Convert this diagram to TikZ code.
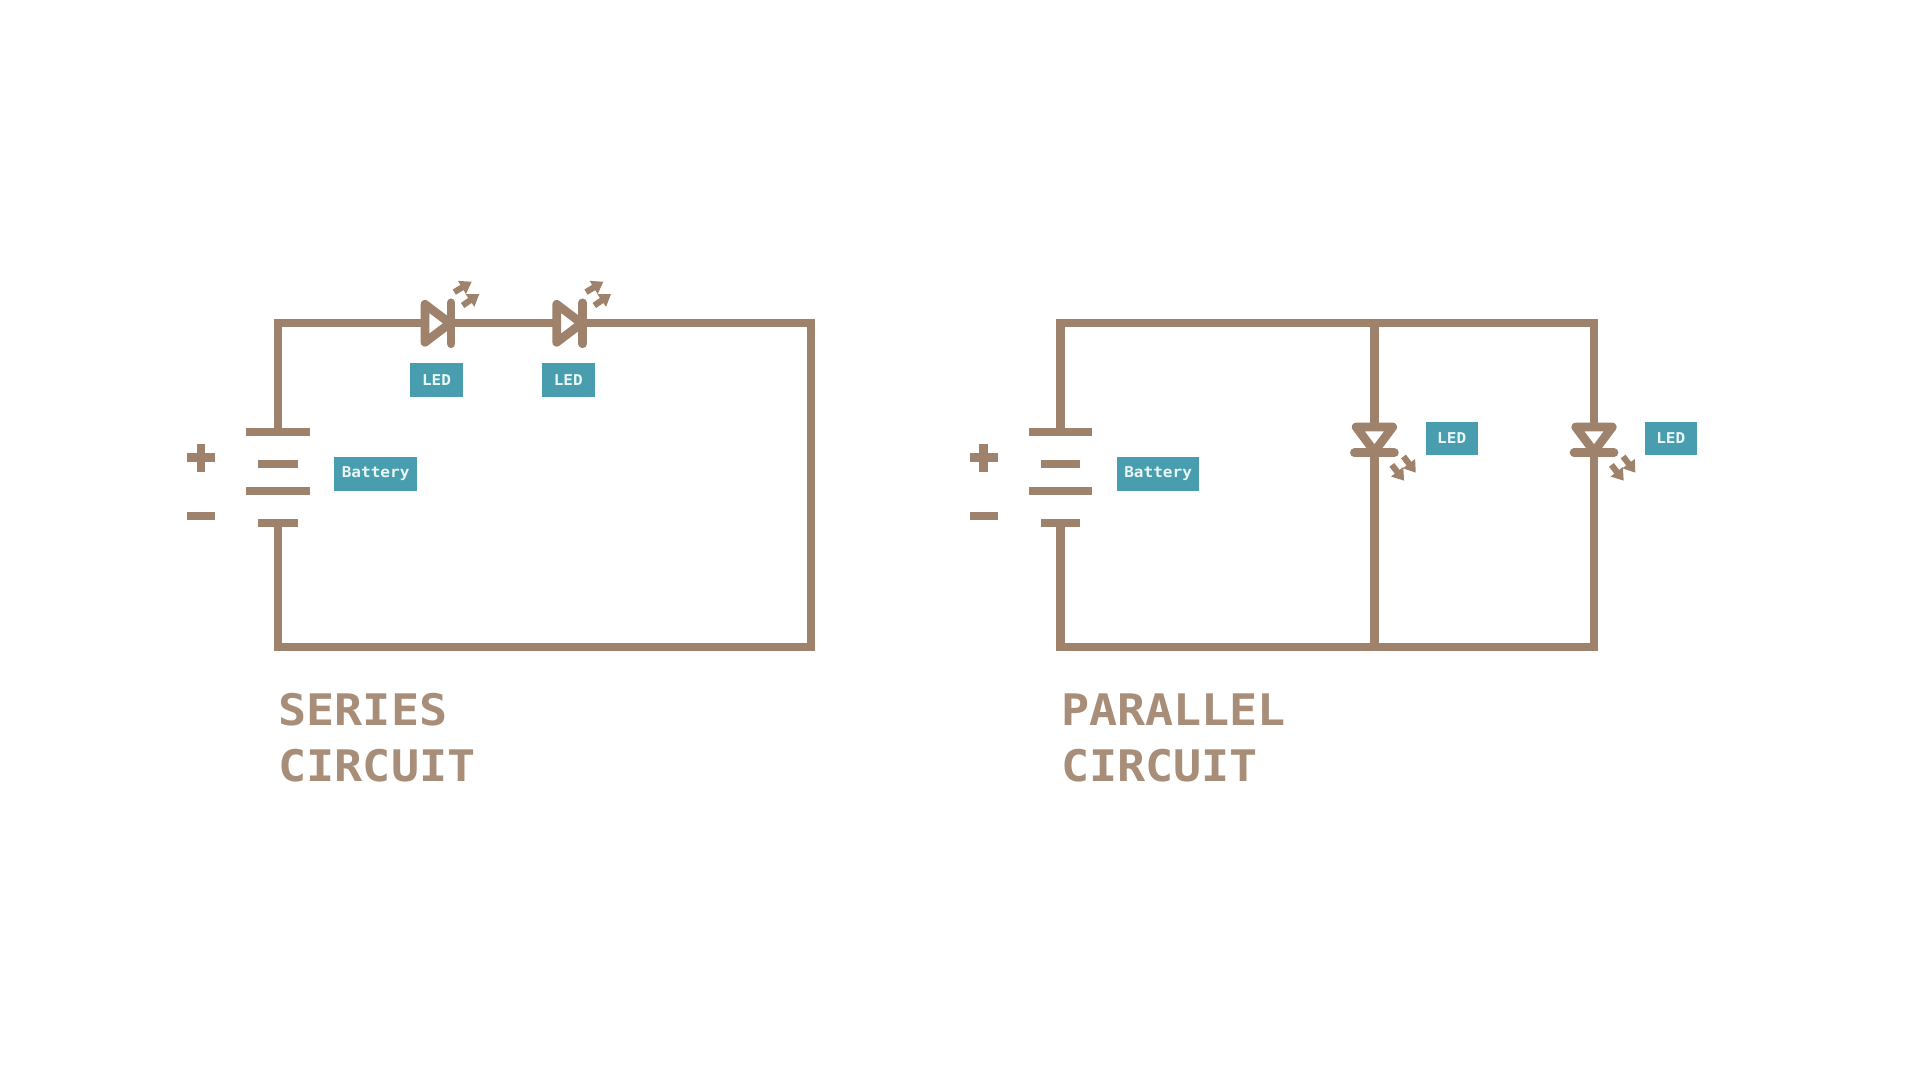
\documentclass[tikz,border=0pt]{standalone}
\usepackage{fontspec}
\newfontfamily\titlefont[FakeStretch=1.075]{DejaVu Sans Mono Bold}
\newfontfamily\tagfont[FakeStretch=1.075]{DejaVu Sans Mono Bold}
\usetikzlibrary{arrows.meta}
\definecolor{wirec}{HTML}{9F826B}
\definecolor{titlec}{HTML}{A88E79}
\definecolor{tagc}{HTML}{489EAE}
\definecolor{tagt}{HTML}{EAF5F6}
\tikzset{
  wire/.style={draw=wirec,line width=6.2pt,miter limit=10},
  bar/.style={draw=wirec,line width=6.2pt},
  ledbody/.style={draw=wirec,line width=6.5pt,line join=round,fill=white},
  ledbar/.style={draw=wirec,line width=6.5pt,line cap=round},
  ray/.style={draw=wirec,line width=4.6pt,-{Triangle[length=8.5pt,width=11pt]}},
  tag/.style={fill=tagc,text=tagt,font=\tagfont\fontsize{11.2}{12}\selectfont,inner sep=0pt,anchor=center},
  title/.style={text=titlec,font=\titlefont\fontsize{32.6}{42}\selectfont,inner sep=0pt,anchor=base west},
  battery/.pic={
    \coordinate (-top) at (0,432);
    \coordinate (-bot) at (0,523.3);
    \draw[bar] (-31.7,432) -- (31.7,432);
    \draw[bar] (-19.7,464) -- (19.7,464);
    \draw[bar] (-31.7,491) -- (31.7,491);
    \draw[bar] (-19.7,523.3) -- (19.7,523.3);
    \draw[bar] (-91,457.5) -- (-63,457.5);
    \draw[bar] (-77,443.5) -- (-77,471.5);
    \draw[bar] (-91,515.7) -- (-63,515.7);
  },
  hled/.pic={
    \coordinate (-in) at (-13,0);
    \coordinate (-out) at (13,0);
    \draw[ledbody] (-13,-19) -- (-13,19) -- (12,0) -- cycle;
    \draw[ledbar] (13,-20.5) -- (13,20.5);
    \draw[ray] (16.3,-31.2) -- (33.7,-41.6);
    \draw[ray] (24.6,-17.8) -- (41.3,-29.3);
  },
  vled/.pic={
    \coordinate (-in) at (0,-12.3);
    \coordinate (-out) at (0,13.4);
    \draw[ledbody] (-18.3,-12.3) -- (18.3,-12.3) -- (0,12.2) -- cycle;
    \draw[ledbar] (-20,13.4) -- (20,13.4);
    \draw[ray] (29.1,17.2) -- (41.4,33.4);
    \draw[ray] (17.4,25.6) -- (29.7,41.4);
  }
}
\begin{document}
\begin{tikzpicture}[x=0.75pt,y=-0.75pt]
\useasboundingbox[fill=white] (0,0) rectangle (1920,1080);

% --- series circuit
\coordinate (stl) at (278,323.3);
\coordinate (str) at (811,323.3);
\coordinate (sbr) at (811,647.3);
\coordinate (sbl) at (278,647.3);
\pic (sbat) at (278,0) {battery};
\pic (sled1) at (438,323.3) {hled};
\pic (sled2) at (569.7,323.3) {hled};
\draw[wire] (sbat-top) -- (stl) -- (sled1-in);
\draw[wire] (sled1-out) -- (sled2-in);
\draw[wire] (sled2-out) -- (str) -- (sbr) -- (sbl) -- (sbat-bot);
\node[tag,minimum width=82.7*0.75pt,minimum height=34*0.75pt] (sbattag) at (375.6,474) {\raisebox{-0.7pt}{Battery}};
\node[tag,minimum width=52.4*0.75pt,minimum height=34*0.75pt] (sledtag1) at (436.5,380.3) {LED};
\node[tag,minimum width=52.4*0.75pt,minimum height=34*0.75pt] (sledtag2) at (568.3,380.3) {LED};
\node[title] (stitle1) at (278.3,725.5) {SERIES};
\node[title] (stitle2) at (278.3,781.5) {CIRCUIT};

% --- parallel circuit
\coordinate (ptl) at (1060.6,323.3);
\coordinate (ptr) at (1594,323.3);
\coordinate (pbr) at (1594,647.3);
\coordinate (pbl) at (1060.6,647.3);
\coordinate (ptm) at (1374.4,323.3);
\coordinate (pbm) at (1374.4,647.3);
\pic (pbat) at (1060.6,0) {battery};
\pic (pled1) at (1374.4,439.3) {vled};
\pic (pled2) at (1594,439.3) {vled};
\draw[wire] (pbat-top) -- (ptl) -- (ptr) -- (pled2-in);
\draw[wire] (pled2-out) -- (pbr) -- (pbl) -- (pbat-bot);
\draw[wire] (ptm) -- (pled1-in);
\draw[wire] (pled1-out) -- (pbm);
\node[tag,minimum width=82.7*0.75pt,minimum height=34*0.75pt] (pbattag) at (1158.1,474) {\raisebox{-0.7pt}{Battery}};
\node[tag,minimum width=52*0.75pt,minimum height=33.5*0.75pt] (pledtag1) at (1451.7,438.3) {\raisebox{0.9pt}{LED}};
\node[tag,minimum width=52*0.75pt,minimum height=33.5*0.75pt] (pledtag2) at (1670.8,438.3) {\raisebox{0.9pt}{LED}};
\node[title] (ptitle1) at (1060.8,725.5) {PARALLEL};
\node[title] (ptitle2) at (1060.8,781.5) {CIRCUIT};
\end{tikzpicture}
\end{document}
